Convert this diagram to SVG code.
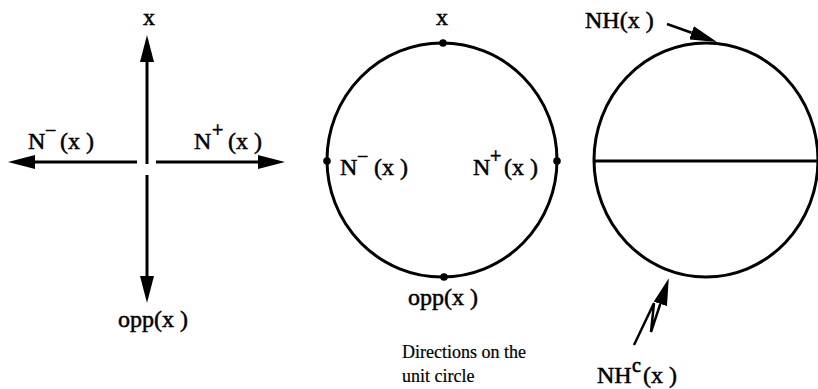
<svg xmlns="http://www.w3.org/2000/svg" width="818" height="389" viewBox="0 0 818 389">
<style>
text{font-family:"Liberation Serif","Times New Roman",serif;fill:#000}
.lbl{font-size:24px;stroke:#000;stroke-width:0.5}
.sup{font-size:20px;stroke:#000;stroke-width:0.6}
.cap{font-size:18px;stroke:#000;stroke-width:0.2}
.ln{stroke:#000;stroke-width:3;fill:none}
.thin{stroke:#000;stroke-width:2.5;fill:none}
</style>
<defs>
<marker id="ah" markerUnits="userSpaceOnUse" viewBox="0 0 27 14" markerWidth="27" markerHeight="14" refX="0" refY="7" orient="auto"><path d="M0,0 L27,7 L0,14 z" fill="#000"/></marker>
</defs>
<g id="connectors">
<line class="ln" x1="147" y1="164" x2="147" y2="62" marker-end="url(#ah)"/>
<line class="ln" x1="147" y1="175" x2="147" y2="276" marker-end="url(#ah)"/>
<line class="ln" x1="137" y1="162" x2="35" y2="162" marker-end="url(#ah)"/>
<line class="ln" x1="156" y1="162" x2="258" y2="162" marker-end="url(#ah)"/>
<line class="thin" x1="667" y1="24" x2="691.6" y2="32.8" marker-end="url(#ah)"/>
<polyline class="thin" points="634,345 654,303 651,332 660.3,303.9" marker-end="url(#ah)"/>
</g>
<g id="cross-labels">
<text class="lbl" x="149" y="25" text-anchor="middle">x</text>
<text class="lbl" x="28" y="149">N</text><text class="sup" x="45" y="137">−</text><text class="lbl" x="60" y="149">(x )</text>
<text class="lbl" x="194" y="149">N</text><text class="sup" x="212" y="137">+</text><text class="lbl" x="228" y="149">(x )</text>
<text class="lbl" x="118" y="327">opp(x )</text>
</g>
<g id="unit-circle">
<ellipse class="ln" cx="442" cy="160" rx="115" ry="117"/>
<circle cx="443" cy="43" r="3.8"/>
<circle cx="327" cy="161" r="3.8"/>
<circle cx="557" cy="161" r="3.8"/>
<circle cx="444" cy="277" r="3.8"/>
<text class="lbl" x="442" y="25" text-anchor="middle">x</text>
<text class="lbl" x="340" y="175">N</text><text class="sup" x="357" y="163">−</text><text class="lbl" x="374" y="175">(x )</text>
<text class="lbl" x="473" y="175">N</text><text class="sup" x="490" y="163">+</text><text class="lbl" x="504" y="175">(x )</text>
<text class="lbl" x="408" y="305">opp(x )</text>
<text class="cap" x="402" y="358">Directions on the</text>
<text class="cap" x="402" y="382">unit circle</text>
</g>
<g id="half-circle">
<ellipse class="ln" cx="706" cy="160" rx="112" ry="117"/>
<line class="ln" x1="594" y1="161" x2="818" y2="161"/>
<text class="lbl" x="585" y="28">NH(x )</text>
<text class="lbl" x="597" y="383">NH</text><text class="sup" x="632" y="372">c</text><text class="lbl" x="643" y="383">(x )</text>
</g>
</svg>
